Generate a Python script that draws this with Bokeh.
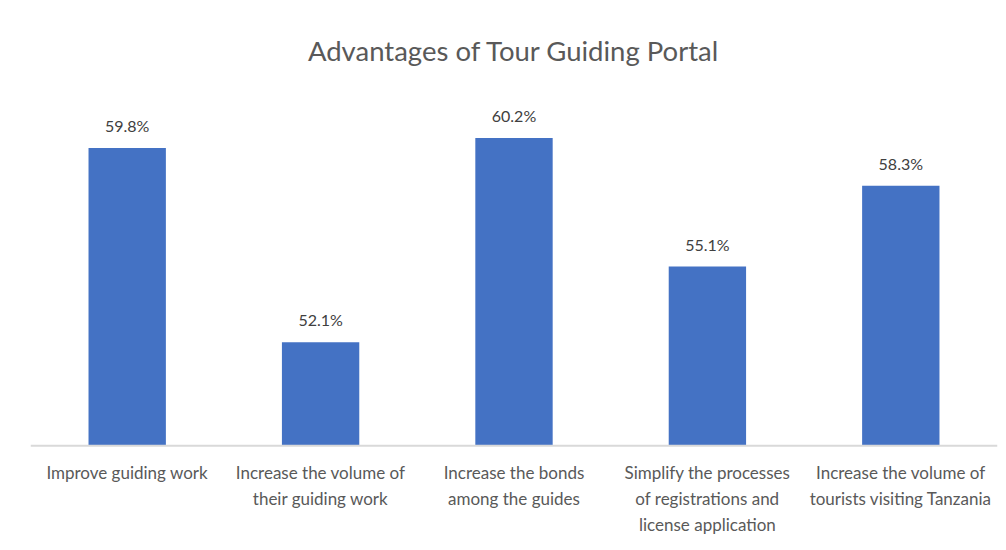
from bokeh.plotting import figure
from bokeh.models import ColumnDataSource, LabelSet, Range1d, Span
from bokeh.core.properties import value
from bokeh.embed import file_html
from bokeh.resources import INLINE

categories = [
    "Improve guiding work",
    "Increase the volume of their guiding work",
    "Increase the bonds among the guides",
    "Simplify the processes of registrations and license application",
    "Increase the volume of tourists visiting Tanzania",
]
label_line1 = ["Improve guiding work", "Increase the volume of", "Increase the bonds",
               "Simplify the processes", "Increase the volume of"]
label_line2 = ["", "their guiding work", "among the guides",
               "of registrations and", "tourists visiting Tanzania"]
label_line3 = ["", "", "", "license application", ""]
values = [59.8, 52.1, 60.2, 55.1, 58.3]
value_labels = ["59.8%", "52.1%", "60.2%", "55.1%", "58.3%"]

BASE = 48
src = ColumnDataSource(dict(cat=categories, val=values, lab=value_labels,
                            base=[BASE] * 5, l1=label_line1, l2=label_line2, l3=label_line3))

p = figure(
    x_range=categories,
    y_range=Range1d(44.16, 62),
    width=998,
    height=542,
    output_backend="svg",
    toolbar_location=None,
    min_border_left=30,
    min_border_right=1,
    min_border_top=92,
    min_border_bottom=0,
    title="Advantages of Tour Guiding Portal",
)
p.vbar(x="cat", top="val", bottom=BASE, width=0.4, source=src,
       fill_color="#4472C4", line_color=None)

p.add_layout(Span(location=BASE, dimension="width", line_color="#D9D9D9", line_width=2))

p.add_layout(LabelSet(x="cat", y="val", text="lab", source=src,
                      text_align="center", text_baseline="bottom", y_offset=13,
                      text_font=value("Lato"), text_font_size="16px", text_color="#404040"))

for col, off in (("l1", -27), ("l2", -53), ("l3", -79)):
    p.add_layout(LabelSet(x="cat", y="base", text=col, source=src,
                          text_align="center", text_baseline="middle", y_offset=off,
                          text_font=value("Lato"), text_font_size="17px",
                          text_color="#595959"))

p.title.align = "center"
p.title.text_font = "Lato"
p.title.text_font_style = "normal"
p.title.text_font_size = "27.5px"
p.title.text_color = "#595959"
p.title.standoff = 51

p.xaxis.visible = False
p.yaxis.visible = False
p.xgrid.grid_line_color = None
p.ygrid.grid_line_color = None
p.outline_line_color = None

open("out.html", "w").write(file_html(p, INLINE))
